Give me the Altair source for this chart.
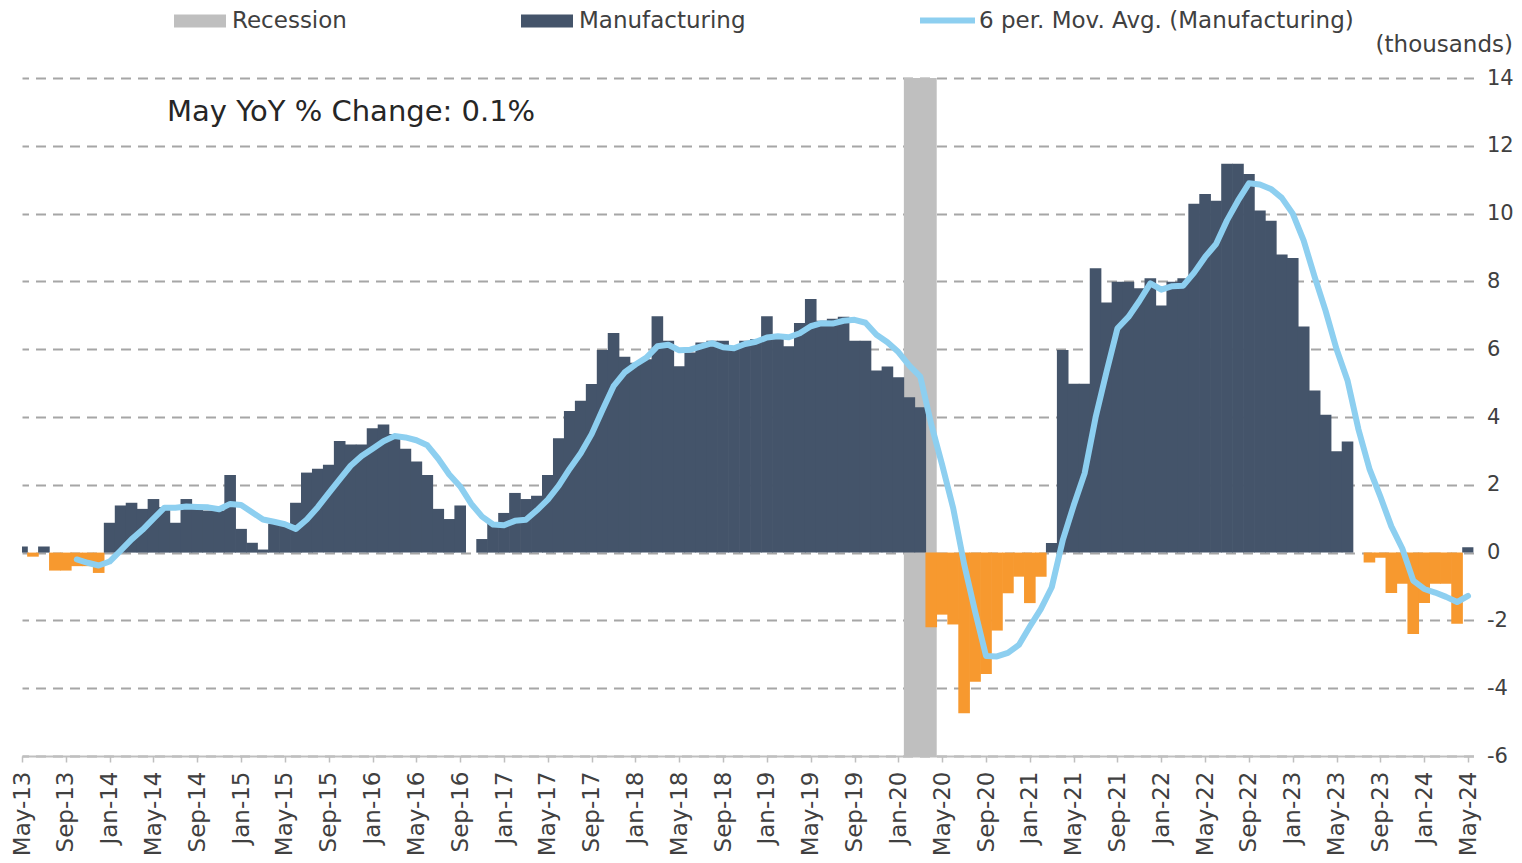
import json
import altair as alt
import pandas as pd

MONTH_NAMES = ["Jan", "Feb", "Mar", "Apr", "May", "Jun",
               "Jul", "Aug", "Sep", "Oct", "Nov", "Dec"]

# Monthly change, manufacturing (thousands), May-13 .. May-24
manufacturing = [
    0.18, -0.12, 0.18, -0.53, -0.53, -0.40, -0.40, -0.60,          # May-13 .. Dec-13
    0.88, 1.39, 1.47, 1.29, 1.58, 1.34, 0.88, 1.58, 1.39, 1.24, 1.24, 2.29,   # 2014
    0.70, 0.29, 0.09, 0.85, 0.80, 1.47, 2.36, 2.47, 2.59, 3.29, 3.19, 3.19,   # 2015
    3.67, 3.78, 3.50, 3.06, 2.69, 2.29, 1.29, 0.99, 1.39, 0.00, 0.40, 0.90,   # 2016
    1.17, 1.76, 1.58, 1.68, 2.29, 3.37, 4.18, 4.48, 4.97, 5.98, 6.48, 5.78,   # 2017
    5.60, 5.70, 6.97, 6.25, 5.50, 5.90, 6.20, 6.25, 6.25, 6.06, 6.25, 6.30,   # 2018
    6.97, 6.45, 6.09, 6.77, 7.48, 6.84, 6.90, 6.96, 6.25, 6.25, 5.37, 5.49,   # 2019
    5.17, 4.58, 4.29, -2.20, -1.83, -2.12, -4.74, -3.81, -3.58, -2.30, -1.20, -0.71,  # 2020
    -1.49, -0.71, 0.28, 5.98, 4.98, 4.98, 8.39, 7.38, 7.99, 7.99, 7.80, 8.09,  # 2021
    7.29, 7.99, 8.09, 10.29, 10.58, 10.38, 11.47, 11.47, 11.17, 10.09, 9.79, 8.79,  # 2022
    8.69, 6.67, 4.78, 4.07, 2.99, 3.28, 0.00, -0.29, -0.15, -1.19, -0.92, -2.40,  # 2023
    -1.49, -0.92, -0.92, -2.10, 0.16,                                  # Jan-24 .. May-24
]
n = len(manufacturing)
month_labels = [f"{MONTH_NAMES[(4 + i) % 12]}-{13 + (4 + i) // 12}" for i in range(n)]
tick_values = list(range(0, n, 4))

recession_start = ["Feb-20"]
recession_end = ["Apr-20"]

y_ticks = list(range(-6, 15, 2))
note_text = "May YoY % Change: 0.1%"
ma_name = "6 per. Mov. Avg. (Manufacturing)"

df = pd.DataFrame({"idx": list(range(n)), "month": month_labels, "value": manufacturing})
df["series"] = ["Manufacturing" if v >= 0 else "Decline" for v in manufacturing]

rec_df = pd.DataFrame({
    "start": [month_labels.index(m) for m in recession_start],
    "end": [month_labels.index(m) for m in recession_end],
    "series": ["Recession"] * len(recession_start),
})

FONT = "DejaVu Sans"
TXT = "#404040"
DARK = "#44546A"
ORANGE = "#F7992F"
GRAY = "#BFBFBF"
BLUE = "#8DCFF0"

x_scale = alt.Scale(domain=[0, n - 0.5], nice=False, zero=False)
y_scale = alt.Scale(domain=[-6, 14], nice=False, zero=False)
color_scale = alt.Scale(domain=["Recession", "Manufacturing", "Decline"],
                        range=[GRAY, DARK, ORANGE])

x_axis = alt.Axis(
    values=tick_values,
    labelExpr=f"{json.dumps(month_labels)}[datum.value]",
    labelAngle=270, labelFontSize=23, labelFont=FONT, labelColor=TXT,
    labelPadding=9, tickSize=6, tickColor=GRAY, tickWidth=1.5,
    domainColor=GRAY, domainWidth=2, grid=False, title=None,
    labelFlush=False, labelOverlap=False, labelBound=False,
)
y_axis = alt.Axis(
    orient="right", values=y_ticks, grid=True, gridDash=[10, 7],
    gridColor="#A6A6A6", gridWidth=1.8, domain=False, ticks=False,
    labelExpr="datum.value < 0 ? '-' + abs(datum.value) : '' + datum.value",
    labelPadding=13, labelFontSize=21, labelFont=FONT, labelColor=TXT,
    labelBound=False, labelFlush=False, labelOverlap=False,
    title="(thousands)", titleAngle=0, titleX=39, titleY=-34,
    titleAlign="right", titleBaseline="middle", titleFontSize=23,
    titleFont=FONT, titleColor=TXT, titleFontWeight="normal",
)

fill_legend = alt.Legend(
    title=None, orient="none", legendX=152, legendY=-83, direction="horizontal",
    values=["Recession", "Manufacturing"], symbolType="M-1,-0.25H1V0.25H-1Z",
    symbolSize=2704, symbolStrokeWidth=0, columnPadding=174, labelOffset=6,
    labelFontSize=23, labelFont=FONT, labelColor=TXT, padding=0, labelLimit=0,
)
stroke_legend = alt.Legend(
    title=None, orient="none", legendX=895, legendY=-88, direction="horizontal",
    symbolType="stroke", symbolSize=3025, symbolStrokeWidth=6, labelOffset=1,
    labelFontSize=23, labelFont=FONT, labelColor=TXT, padding=0, labelLimit=0,
)

rec = alt.Chart(rec_df).transform_calculate(
    x0="datum.start - 0.5", x1="datum.end + 0.5"
).mark_rect().encode(
    x=alt.X("x0:Q", scale=x_scale, axis=x_axis),
    x2="x1:Q",
    color=alt.Color("series:N", scale=color_scale, legend=fill_legend),
)

bars = alt.Chart(df).transform_calculate(
    x0="datum.idx - 0.53", x1="datum.idx + 0.53"
).mark_bar(clip=True).encode(
    x=alt.X("x0:Q", scale=x_scale, axis=x_axis),
    x2="x1:Q",
    y=alt.Y("value:Q", scale=y_scale, axis=y_axis),
    y2=alt.datum(0),
    color=alt.Color("series:N", scale=color_scale, legend=fill_legend),
)

ma = alt.Chart(df).transform_window(
    ma="mean(value)", cnt="count()", frame=[-5, 0], sort=[alt.SortField("idx")]
).transform_filter("datum.cnt == 6").transform_calculate(
    series=f"'{ma_name}'"
).mark_line(strokeWidth=6, strokeCap="round", strokeJoin="round").encode(
    x=alt.X("idx:Q", scale=x_scale, axis=x_axis),
    y=alt.Y("ma:Q", scale=y_scale, axis=y_axis),
    stroke=alt.Stroke("series:N", scale=alt.Scale(domain=[ma_name], range=[BLUE]),
                      legend=stroke_legend),
)

note = alt.Chart(pd.DataFrame({"t": [note_text]})).mark_text(
    align="left", baseline="middle", fontSize=29, font=FONT, color="#262626"
).encode(x=alt.value(145), y=alt.value(34), text="t:N")

chart = alt.layer(rec, bars, ma, note).properties(
    width=1451.5, height=678,
    autosize=alt.AutoSizeParams(type="none"),
    padding={"left": 14, "top": 70, "right": 40, "bottom": 102},
    background="white",
).configure_view(stroke=None)

chart.save("out.html", embed_options={"renderer": "svg", "actions": False})
